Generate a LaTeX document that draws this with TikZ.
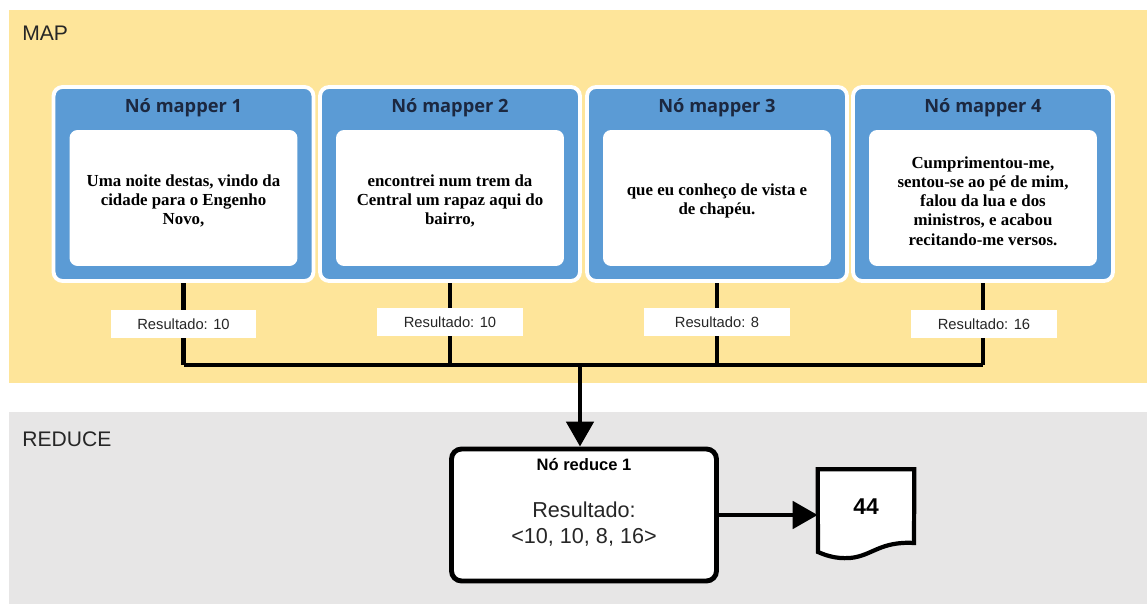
\documentclass[tikz,border=0pt]{standalone}
\usepackage{fontspec}
\setmainfont{Liberation Sans}
\newfontfamily\bodyserif{Liberation Serif}
\newfontfamily\titlesans{Open Sans}
\usetikzlibrary{arrows.meta,positioning}
\definecolor{mapband}{HTML}{FEE59A}
\definecolor{redband}{HTML}{E7E6E6}
\definecolor{mapblue}{HTML}{5B9BD5}
\definecolor{titleink}{HTML}{1C2840}
\pgfdeclarelayer{bands}
\pgfdeclarelayer{wires}
\pgfsetlayers{bands,wires,main}
\tikzset{
  mapperbox/.style={draw=white, line width=2.2pt, fill=mapblue, rounded corners=0.18cm,
    minimum width=5.2cm, minimum height=3.88cm, inner sep=0pt},
  textbox/.style={fill=white, rounded corners=0.16cm, minimum width=4.56cm,
    minimum height=2.72cm, inner sep=2pt, align=center,
    font=\bodyserif\bfseries\fontsize{9.6}{10.9}\selectfont},
  mtitle/.style={font=\titlesans\bfseries\fontsize{10.4}{12}\selectfont, text=titleink},
  reslabel/.style={fill=white, minimum width=2.92cm, minimum height=0.56cm, inner sep=0pt,
    font=\fontsize{8.4}{10}\selectfont, text=black!85},
  wire/.style={line width=2.8pt},
  bigarrow/.style={line width=2.8pt, -{Triangle[length=0.5cm,width=0.54cm]}},
  bandlabel/.style={anchor=west, inner sep=0pt, font=\fontsize{12}{14}\selectfont, text=black!85},
}
\begin{document}
\begin{tikzpicture}[x=0.02cm, y=-0.02cm]
\useasboundingbox (0,0) rectangle (1147,604);
\begin{pgfonlayer}{bands}
  \fill[white] (0,0) rectangle (1147,604);
  \fill[mapband] (9,10) rectangle (1147,383);
  \fill[redband] (9,412) rectangle (1147,604);
\end{pgfonlayer}
\node[bandlabel] (maplbl) at (22,33) {MAP};
\node[bandlabel] (redlbl) at (22,439) {REDUCE};

% mapper nodes
\node[mapperbox] (m1) at (183.5,184) {};
\node[mapperbox] (m2) at (450,184) {};
\node[mapperbox] (m3) at (717,184) {};
\node[mapperbox] (m4) at (983,184) {};
\foreach \i in {1,...,4} {
  \node[mtitle] (t\i) at ([yshift=-0.46cm]m\i.north) {Nó mapper \i};
}
\node[textbox] (b1) at ([yshift=-0.28cm]m1.center) {};
\node[textbox] (b2) at ([yshift=-0.28cm]m2.center) {};
\node[textbox] (b3) at ([yshift=-0.28cm]m3.center) {};
\node[textbox] (b4) at ([yshift=-0.28cm]m4.center) {};
\node[textbox, fill=none] (s1) at ([yshift=-0.06cm]b1.center) {Uma noite destas, vindo da\\cidade para o Engenho\\Novo,};
\node[textbox, fill=none] (s2) at ([yshift=-0.06cm]b2.center) {encontrei num trem da\\Central um rapaz aqui do\\bairro,};
\node[textbox, fill=none] (s3) at ([yshift=-0.06cm]b3.center) {que eu conheço de vista e\\de chapéu.};
\node[textbox, fill=none] (s4) at ([yshift=-0.06cm]b4.center) {Cumprimentou-me,\\sentou-se ao pé de mim,\\falou da lua e dos\\ministros, e acabou\\recitando-me versos.};

% partial results
\node[reslabel] (r1) at (183.5,324) {Resultado: 10};
\node[reslabel] (r2) at (450,322) {Resultado: 10};
\node[reslabel] (r3) at (717,322) {Resultado: 8};
\node[reslabel] (r4) at (984,324) {Resultado: 16};

\coordinate (bus) at (580,365);

% reduce node
\node[draw, line width=2.8pt, fill=white, rounded corners=0.2cm,
      minimum width=5.3cm, minimum height=2.64cm] (red) at (584,515) {};
\node[font=\bfseries\fontsize{9.4}{11}\selectfont] (redtitle) at (584,465) {Nó reduce 1};
\node[align=center, font=\fontsize{12.3}{15.3}\selectfont, text=black!85] (redres) at (584,524)
  {Resultado:\\<10, 10, 8, 16>};

% output document
\node[minimum width=1.92cm, minimum height=1.5cm, inner sep=0pt] (doc) at (866,507) {};
\draw[line width=2.4pt, fill=white, line join=miter]
  (doc.north west) -- (doc.north east) -- (914,543)
  .. controls (880,541) and (872,556) .. (850,558)
  .. controls (835,559) and (825,555) .. (818,552) -- cycle;
\node[font=\bfseries\fontsize{13}{15}\selectfont] (doctext) at (866,507) {44};

\begin{pgfonlayer}{wires}
  \foreach \i in {1,...,4} {
    \draw[wire] (m\i.south) -- (m\i.south |- bus);
  }
  \draw[wire] (m1.south |- bus) -- (m4.south |- bus);
\end{pgfonlayer}
\draw[bigarrow] (bus) -- (bus |- red.north);
\draw[bigarrow] (red.east) -- (red.east -| doc.west);
\end{tikzpicture}
\end{document}
